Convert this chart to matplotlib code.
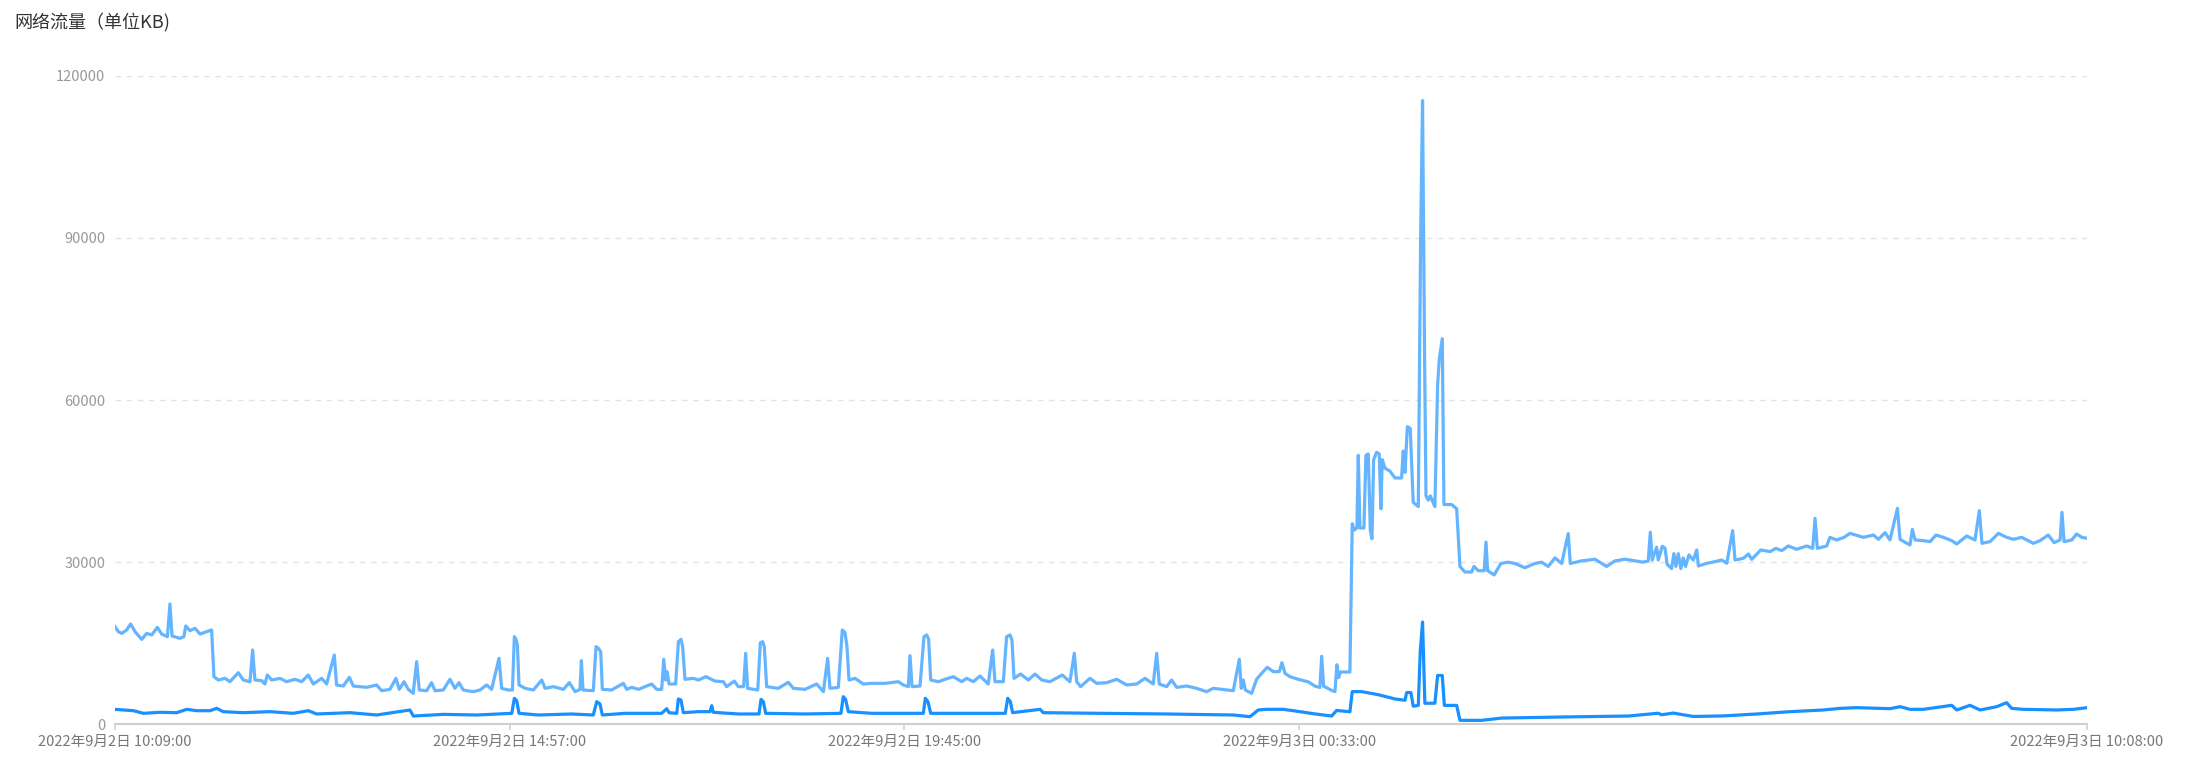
import matplotlib
matplotlib.use("Agg")
from matplotlib import pyplot as plt

# Fuente con glifos chinos
plt.rcParams['font.family'] = ['Noto Sans CJK SC', 'DejaVu Sans']

titulo = "网络流量（单位KB)"

# Etiquetas del eje x (minuto desde 2022-09-02 10:09)
marcas_min = [0, 288, 576, 864, 1439]
marcas_txt = ["2022年9月2日 10:09:00", "2022年9月2日 14:57:00", "2022年9月2日 19:45:00",
              "2022年9月3日 00:33:00", "2022年9月3日 10:08:00"]

# Serie clara (valores mayores), minuto y KB
claro_min = [0, 2.4, 4.9, 8.5, 11.4, 14.6, 19.5, 23.1, 26.8, 30.9, 34.0, 38.2, 40.1, 41.6, 47.4, 50.3,
             51.6, 54.7, 58.4, 62.0, 66.9, 70.5, 72.2, 75.4, 80.3, 83.9, 90.0, 93.6, 98.5, 100.4, 102.1,
             107.0, 109.4, 111.1, 114.3, 120.4, 125.2, 131.3, 136.2, 141.0, 144.7, 150.8, 154.4, 160.0,
             161.7, 166.6, 171.0, 173.9, 183.6, 190.9, 194.6, 200.6, 205.0, 207.4, 210.9, 214.0, 217.6,
             220.1, 222.0, 227.4, 231.0, 233.5, 239.6, 244.4, 248.1, 251.0, 254.1, 261.4, 266.3, 271.2,
             274.8, 280.2, 282.1, 287.0, 290.0, 291.4, 292.6, 293.6, 294.8, 299.2, 305.3, 311.4, 313.8,
             319.9, 327.2, 331.5, 335.7, 339.3, 340.3, 341.5, 349.0, 351.0, 352.7, 354.4, 355.6, 362.4,
             370.9, 373.4, 377.0, 381.9, 391.6, 395.3, 398.9, 400.4, 401.8, 402.8, 404.3, 409.1, 411.1,
             413.0, 414.2, 415.9, 422.0, 425.7, 431.2, 437.8, 443.9, 446.3, 451.9, 454.8, 458.7, 460.2,
             461.6, 469.0, 470.9, 472.6, 473.8, 475.5, 484.0, 491.3, 495.0, 503.5, 512.0, 516.9, 520.0,
             521.7, 527.8, 530.7, 532.7, 534.1, 535.6, 540.0, 546.0, 552.1, 561.9, 571.6, 575.2, 578.9,
             580.1, 581.6, 587.4, 590.3, 592.3, 593.7, 595.2, 600.8, 605.6, 611.7, 617.8, 621.4, 626.3,
             631.2, 637.2, 640.4, 642.1, 648.2, 650.6, 653.1, 654.5, 656.0, 660.8, 666.4, 671.3, 676.2,
             682.2, 691.2, 696.8, 700.0, 701.7, 704.6, 711.4, 716.3, 723.6, 730.9, 738.2, 745.5, 751.6,
             757.6, 760.1, 762.0, 767.4, 771.0, 774.7, 782.0, 789.2, 796.5, 801.4, 807.5, 816.0, 820.4,
             821.8, 823.3, 824.8, 829.4, 833.0, 836.7, 840.8, 845.2, 849.6, 851.5, 853.7, 857.3, 863.4,
             870.7, 875.6, 879.2, 880.5, 881.9, 887.8, 890.2, 891.6, 892.9, 894.1, 901.1, 902.8, 904.3,
             906.2, 907.2, 908.4, 911.3, 912.8, 914.5, 916.0, 917.2, 918.4, 920.6, 922.5, 923.7, 924.7,
             926.7, 930.3, 934.0, 938.8, 940.0, 941.3, 943.0, 945.1, 947.3, 951.0, 952.7, 954.1, 955.6,
             956.6, 958.3, 959.7, 963.1, 965.1, 966.3, 968.5, 969.7, 975.3, 979.0, 981.4, 985.0, 989.9,
             991.6, 994.8, 999.1, 1000.4, 1001.6, 1006.4, 1008.1, 1011.3, 1016.6, 1021.5, 1028.8, 1036.1,
             1041.0, 1045.8, 1050.7, 1055.6, 1060.4, 1061.9, 1070.2, 1079.9, 1088.4, 1094.5, 1101.8,
             1109.1, 1115.1, 1118.8, 1120.3, 1121.7, 1124.9, 1126.1, 1129.0, 1131.0, 1132.6, 1135.8,
             1137.5, 1139.0, 1140.7, 1142.6, 1144.3, 1146.0, 1148.5, 1151.7, 1154.2, 1155.4, 1161.5,
             1167.5, 1172.4, 1176.1, 1180.4, 1182.1, 1188.2, 1191.9, 1194.3, 1200.9, 1207.7, 1212.0,
             1216.2, 1221.0, 1227.1, 1234.4, 1238.8, 1240.5, 1242.2, 1249.0, 1251.4, 1256.3, 1261.7,
             1266.0, 1275.8, 1283.1, 1286.7, 1291.6, 1295.2, 1300.6, 1302.5, 1309.8, 1311.5, 1313.5,
             1319.5, 1324.4, 1328.8, 1334.1, 1340.2, 1343.9, 1351.2, 1357.2, 1360.4, 1362.3, 1368.2,
             1374.3, 1380.3, 1385.2, 1391.3, 1399.8, 1404.7, 1410.7, 1414.9, 1419.3, 1420.7, 1422.2,
             1427.8, 1431.4, 1435.1, 1439]
claro_kb = [18030, 17100, 16790, 17410, 18520, 17100, 15680, 16790, 16490, 17900, 16670, 16180, 22230,
            16300, 15870, 16180, 18150, 17290, 17720, 16670, 17100, 17410, 8770, 8150, 8460, 7840, 9510,
            8150, 7840, 13710, 8150, 8030, 7410, 9080, 8150, 8460, 7840, 8280, 7840, 9080, 7410, 8460,
            7410, 12780, 7230, 7040, 8650, 7040, 6790, 7230, 6170, 6420, 8460, 6420, 7840, 6420, 5680,
            11550, 6300, 6170, 7660, 6170, 6300, 8280, 6610, 7660, 6300, 5990, 6300, 7230, 6420, 12160,
            6610, 6300, 6300, 16180, 15680, 14640, 7230, 6610, 6300, 8150, 6610, 6920, 6420, 7660, 5990,
            6420, 11730, 6300, 6170, 14330, 14020, 13400, 6420, 6300, 7530, 6420, 6790, 6420, 7410, 6420,
            6420, 11980, 8150, 9700, 7410, 7410, 15250, 15680, 14330, 8280, 8460, 8150, 8770, 7960, 7840,
            6920, 7960, 6920, 6920, 13090, 6610, 6300, 15060, 15250, 14330, 6920, 6610, 7720, 6610, 6420,
            7410, 5990, 12160, 6610, 6790, 17410, 16920, 14330, 8150, 8460, 7410, 7530, 7530, 7840, 7230,
            6920, 12660, 6920, 7040, 16180, 16490, 15680, 8150, 7840, 8280, 8770, 7840, 8460, 7840, 8890,
            7410, 13710, 7840, 7840, 16180, 16490, 15560, 8460, 9260, 8150, 9260, 8150, 7840, 9080, 7840,
            13090, 7840, 6920, 8460, 7530, 7660, 8280, 7230, 7410, 8460, 7410, 13090, 7410, 6920, 8150,
            6790, 7040, 6610, 5990, 6610, 6420, 6170, 11980, 6610, 8150, 6300, 5680, 8280, 9390, 10500,
            9700, 9700, 11360, 9390, 8770, 8280, 7810, 7020, 6780, 12550, 7020, 6220, 6000, 10970, 8600,
            9630, 9630, 37090, 35900, 36300, 49760, 36300, 36300, 49760, 50000, 35900, 34320, 48960,
            50310, 50000, 39860, 48960, 47380, 46830, 45560, 45560, 50550, 46590, 55060, 54740, 41050,
            40260, 89730, 115450, 67570, 42240, 41450, 42240, 40260, 62820, 67570, 71360, 40650, 40650,
            39860, 29180, 28150, 28150, 29180, 28390, 28390, 33690, 28390, 27600, 28390, 29730, 29970,
            29730, 28940, 29730, 29970, 29180, 30760, 29730, 35270, 29730, 30210, 30520, 29180, 30210,
            30520, 30210, 29970, 30210, 35510, 30370, 32740, 30370, 32900, 32580, 29570, 28780, 31550,
            29180, 31550, 28780, 30760, 29180, 31310, 30370, 32230, 29260, 29760, 30070, 30370, 29760,
            35810, 30370, 30680, 31490, 30500, 32230, 31920, 32530, 32100, 32970, 32350, 32970, 32530,
            38090, 32530, 32970, 34570, 34080, 34570, 35310, 34570, 35000, 34200, 35440, 34080, 39940,
            34200, 33150, 36050, 34080, 33960, 33770, 35000, 34570, 33960, 33340, 34820, 34080, 39510,
            33460, 33770, 35310, 34570, 34200, 34570, 33460, 33960, 35000, 33590, 34080, 39200, 33770,
            34080, 35190, 34570, 34390]

# Serie oscura (valores menores)
oscuro_min = [0, 6.1, 13.4, 20.7, 32.8, 45.0, 52.3, 59.6, 69.3, 74.2, 79.0, 93.6, 113.1, 130.1, 141.0,
              147.1, 171.5, 190.9, 215.2, 217.7, 239.6, 263.9, 289.5, 291.4, 293.1, 294.8, 308.9, 333.2,
              349.0, 351.5, 353.9, 355.6, 372.2, 398.9, 402.6, 404.3, 409.9, 411.1, 413.0, 414.7, 425.7,
              434.2, 435.4, 436.6, 454.8, 469.9, 471.4, 473.1, 474.8, 503.5, 529.7, 531.4, 533.1, 535.1,
              552.1, 575.2, 589.8, 591.3, 593.2, 595.2, 621.4, 649.6, 651.4, 653.3, 655.0, 675.0, 677.4,
              718.7, 767.4, 816.0, 828.2, 834.2, 840.3, 852.5, 864.6, 875.6, 887.8, 891.4, 901.1, 902.8,
              909.6, 921.8, 934.0, 941.3, 942.5, 945.6, 947.3, 951.0, 952.4, 954.1, 955.8, 963.1, 965.1,
              968.5, 970.0, 979.0, 981.4, 997.2, 1011.8, 1055.6, 1104.2, 1126.1, 1128.5, 1137.0, 1151.7,
              1173.6, 1198.0, 1222.3, 1246.6, 1258.7, 1270.9, 1295.2, 1302.5, 1309.8, 1319.5, 1340.2,
              1343.9, 1353.6, 1360.9, 1373.1, 1380.3, 1384.0, 1392.5, 1416.8, 1429.0, 1439]
oscuro_kb = [2720, 2600, 2470, 1980, 2170, 2100, 2720, 2470, 2470, 2900, 2290, 2100, 2290, 1980, 2470,
             1860, 2100, 1670, 2600, 1480, 1790, 1670, 1980, 4760, 4330, 1980, 1670, 1860, 1670, 4140,
             3710, 1670, 1980, 1980, 2840, 2100, 1980, 4630, 4450, 2100, 2290, 2290, 3400, 2170, 1860,
             1860, 4570, 4140, 1980, 1860, 1980, 5070, 4570, 2290, 1980, 1980, 1980, 4760, 4140, 1980,
             1980, 1980, 4760, 4140, 2100, 2720, 2100, 1980, 1860, 1670, 1360, 2600, 2720, 2720, 2290,
             1870, 1480, 2510, 2270, 6000, 6000, 5430, 4640, 4400, 5830, 5830, 3300, 3450, 13350, 18890,
             3850, 3850, 9000, 9000, 3450, 3450, 680, 680, 1100, 1300, 1480, 2000, 1710, 2030, 1400,
             1500, 1860, 2290, 2600, 2900, 3030, 2840, 3210, 2720, 2720, 3460, 2600, 3460, 2600, 3210,
             3950, 2900, 2720, 2600, 2720, 3030]

fig = plt.figure(figsize=(21.99, 7.66), dpi=100)
ax = fig.add_axes([0.0523, 0.0548, 0.8968, 0.846])

# Dibujamos las dos series
ax.plot(claro_min, claro_kb, color="#64b4ff", linewidth=2.3, solid_joinstyle="round")
ax.plot(oscuro_min, oscuro_kb, color="#1890ff", linewidth=2.3, solid_joinstyle="round")

ax.set_xlim(0, 1439)
ax.set_ylim(0, 120000)
ax.set_yticks([0, 30000, 60000, 90000, 120000])
ax.set_yticklabels(["0", "30000", "60000", "90000", "120000"])
ax.set_xticks(marcas_min)
ax.set_xticklabels(marcas_txt)

# Rejilla punteada solo en y
ax.grid(axis="y", color="#e3e3e3", linestyle=(0, (4, 4)), linewidth=1)
ax.set_axisbelow(True)
for lado in ["top", "right", "left"]:
    ax.spines[lado].set_visible(False)
ax.spines["bottom"].set_color("#cfcfcf")
ax.spines["bottom"].set_linewidth(1.5)

ax.tick_params(axis="y", length=0, pad=7, labelsize=10.5, labelcolor="#999999")
ax.tick_params(axis="x", length=4, width=1.2, color="#cfcfcf", pad=4, labelsize=10.5,
               labelcolor="#777777")

# Titulo arriba a la izquierda
fig.text(0.0064, 0.971, titulo, fontsize=13, color="#333333", ha="left", va="center")

fig.savefig("out.png", dpi=100)
